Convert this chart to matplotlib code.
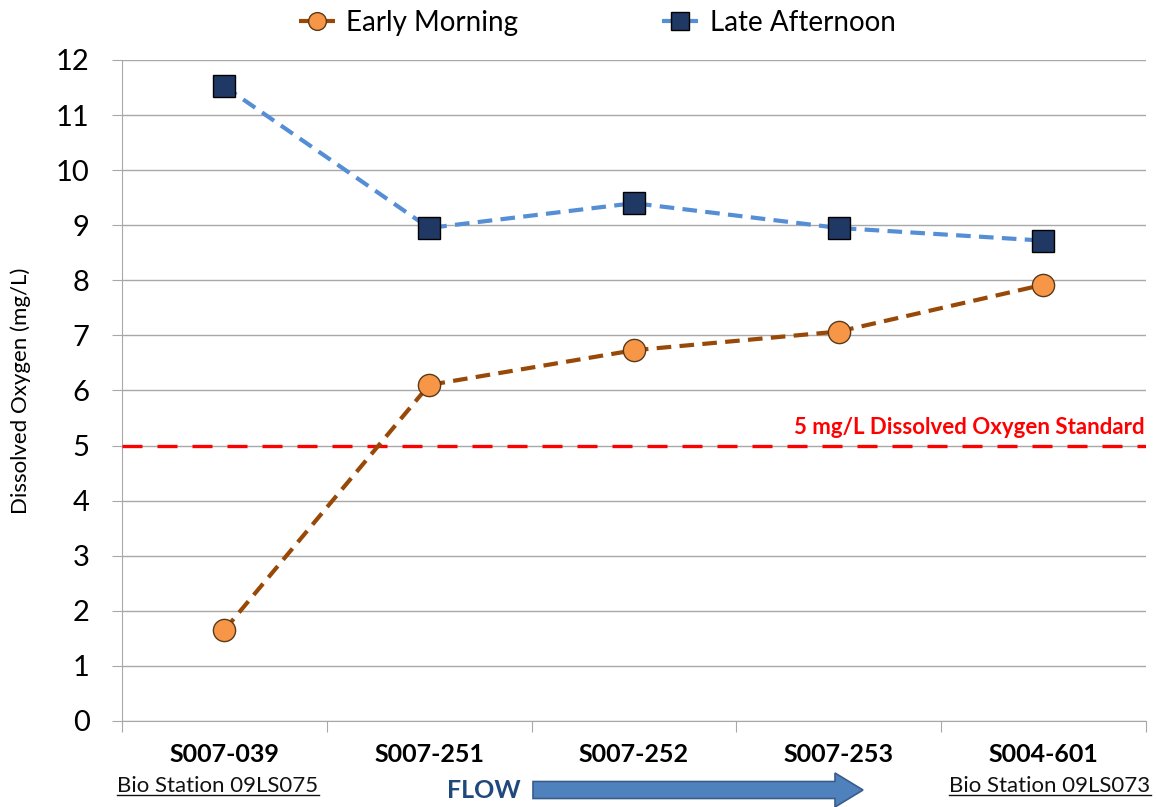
import matplotlib
matplotlib.use('Agg')
from matplotlib import pyplot as plt
from matplotlib.patches import FancyArrow
from matplotlib.lines import Line2D

# data
stations = ['S007-039', 'S007-251', 'S007-252', 'S007-253', 'S004-601']
early_morning = [1.65, 6.10, 6.73, 7.07, 7.92]
late_afternoon = [11.52, 8.95, 9.40, 8.95, 8.72]
do_standard = 5.0
yticks = list(range(0, 13))

plt.rcParams['font.family'] = ['Lato', 'DejaVu Sans']

fig = plt.figure(figsize=(11.57, 8.07), dpi=100)
ax = fig.add_axes([0.1054, 0.1066, 0.885, 0.8191])

x = list(range(len(stations)))
ax.plot(x, late_afternoon, color='#558ED5', lw=3, dashes=(3.5, 2),
        marker='s', ms=16, mfc='#1F3864', mec='black', mew=1,
        label='Late Afternoon', zorder=4)
ax.plot(x, early_morning, color='#984807', lw=3, dashes=(3.5, 2),
        marker='o', ms=16, mfc='#F79646', mec='#5A3A1A', mew=1,
        label='Early Morning', zorder=5)

ax.axhline(do_standard, color='#FF0000', lw=2.4, dashes=(6, 4.5), zorder=3)
ax.text(4.495, do_standard + 0.14, '5 mg/L Dissolved Oxygen Standard',
        color='#FF0000', fontsize=16, fontweight='bold', ha='right', va='bottom')

ax.set_xlim(-0.5, 4.5)
ax.set_ylim(0, 12)
ax.set_yticks(yticks)
ax.tick_params(axis='y', labelsize=21, length=7.2, color='#A8A8A8', pad=16)
ax.yaxis.grid(True, color='#A8A8A8', lw=1)
ax.set_axisbelow(True)

# category labels centred, tick marks at the boundaries
ax.set_xticks([i - 0.5 for i in range(len(stations) + 1)])
ax.set_xticklabels([])
ax.set_xticks(x, minor=True)
ax.set_xticklabels(stations, minor=True, fontsize=18, fontweight='bold')
ax.tick_params(axis='x', which='major', length=8, color='#A8A8A8')
ax.tick_params(axis='x', which='minor', length=0, pad=16)

for s in ['top', 'right']:
    ax.spines[s].set_visible(False)
for s in ['left', 'bottom']:
    ax.spines[s].set_color('#A8A8A8')

ax.set_ylabel('Dissolved Oxygen (mg/L)', fontsize=16, labelpad=18)

h, l = ax.get_legend_handles_labels()
fig.legend(h[::-1], l[::-1], loc='center', bbox_to_anchor=(0.516, 0.972),
           ncol=2, frameon=False, fontsize=20, handlelength=1.3,
           columnspacing=5.2, handletextpad=0.4, markerscale=0.8)

# station notes and flow arrow under the axis
t1 = fig.text(218 / 1157, 1 - 786 / 807, 'Bio Station 09LS075', fontsize=16,
              ha='center', va='center', color='#111111')
t2 = fig.text(1050 / 1157, 1 - 786 / 807, 'Bio Station 09LS073', fontsize=16,
              ha='center', va='center', color='#111111')
fig.text(484 / 1157, 1 - 790 / 807, 'FLOW', fontsize=18, fontweight='bold',
         ha='center', va='center', color='#1F497D')
fig.patches.append(FancyArrow(533 / 1157, 1 - 790 / 807, 330 / 1157, 0,
                              width=17 / 807, head_width=34 / 807,
                              head_length=28 / 1157, length_includes_head=True,
                              transform=fig.transFigure, facecolor='#4F81BD',
                              edgecolor='#385D8A', lw=1.2))

fig.canvas.draw()
r = fig.canvas.get_renderer()
for t in (t1, t2):
    bb = t.get_window_extent(r).transformed(fig.transFigure.inverted())
    fig.add_artist(Line2D([bb.x0, bb.x1], [bb.y0 + 0.001, bb.y0 + 0.001],
                          transform=fig.transFigure, color='#111111', lw=1))

fig.savefig('out.png', dpi=100)
